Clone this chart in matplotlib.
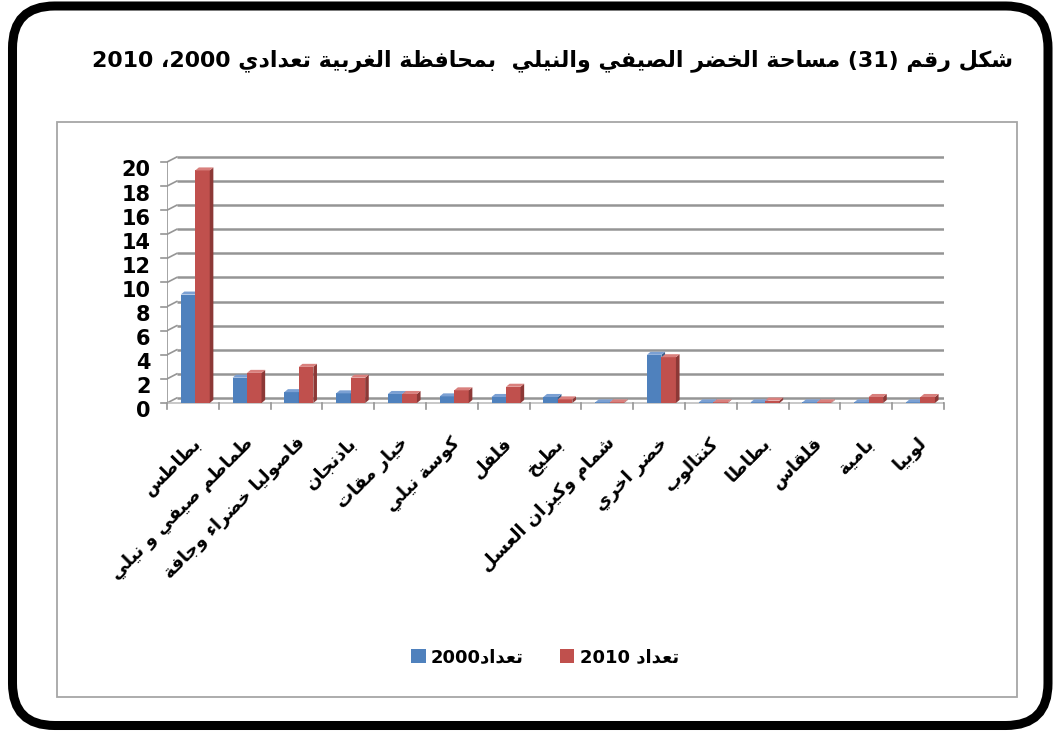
import re
import unicodedata
import matplotlib
matplotlib.use("Agg")
import matplotlib.pyplot as plt
from matplotlib.patches import Polygon, FancyBboxPatch, Rectangle

# ---------------- data ----------------
categories = ["بطاطس", "طماطم صيفي و نيلي", "فاصوليا خضراء وجافة", "باذنجان",
              "خيار مقات", "كوسة نيلي", "فلفل", "بطيخ", "شمام وكيزان العسل",
              "خضر اخري", "كنتالوب", "بطاطا", "قلقاس", "بامية", "لوبيا"]
values_2000 = [9.0, 2.1, 0.9, 0.8, 0.75, 0.55, 0.5, 0.5, 0.05, 4.0, 0.05, 0.05, 0.05, 0.05, 0.05]
values_2010 = [19.3, 2.5, 3.0, 2.1, 0.75, 1.05, 1.35, 0.3, 0.05, 3.8, 0.05, 0.2, 0.05, 0.5, 0.5]
series_labels = ["تعداد2000", "تعداد 2010"]
yticks = [0, 2, 4, 6, 8, 10, 12, 14, 16, 18, 20]
title = "شكل رقم (31) مساحة الخضر الصيفي والنيلي  بمحافظة الغربية تعدادي 2000، 2010"


# ---------------- Arabic shaping (presentation forms + visual order) ----------------
def _forms(ch):
    try:
        name = unicodedata.name(ch)
    except ValueError:
        return None
    if not name.startswith("ARABIC LETTER"):
        return None
    f = {}
    for k, suf in (("isol", " ISOLATED FORM"), ("fina", " FINAL FORM"),
                   ("init", " INITIAL FORM"), ("medi", " MEDIAL FORM")):
        try:
            f[k] = unicodedata.lookup(name + suf)
        except KeyError:
            pass
    return f if f else None


def _shape(s):
    F = [_forms(c) for c in s]
    dual = lambda f: f is not None and "init" in f
    joins = lambda f: f is not None and "fina" in f
    out = []
    n = len(s)
    for i, c in enumerate(s):
        f = F[i]
        if f is None:
            out.append(c)
            continue
        prev = F[i - 1] if i > 0 else None
        nxt = F[i + 1] if i < n - 1 else None
        jp = dual(prev) and joins(f)
        jn = dual(f) and joins(nxt)
        if jp and jn:
            out.append(f["medi"])
        elif jp:
            out.append(f["fina"])
        elif jn:
            out.append(f["init"])
        else:
            out.append(f.get("isol", c))
    return "".join(out)


def ar(s):
    s = _shape(s)
    toks = re.findall(r"[0-9A-Za-z.]+|.", s)[::-1]
    mirror = {"(": ")", ")": "("}
    return "".join(mirror.get(t, t) for t in toks)


# ---------------- figure ----------------
W, H = 1053, 732
fig = plt.figure(figsize=(W / 100, H / 100), dpi=100)
fig.patch.set_facecolor("white")

FONT = "DejaVu Sans"

# outer rounded frame
frame = FancyBboxPatch((12.5 / W, 6.5 / H), (1048 - 12.5) / W, (726 - 6.5) / H,
                       boxstyle="round,pad=0,rounding_size=0.04",
                       transform=fig.transFigure, fill=False,
                       edgecolor="black", linewidth=6.5, mutation_aspect=W / H)
fig.patches.append(frame)

# inner chart-area box
inner = Rectangle((57 / W, 1 - 697 / H), (1017 - 57) / W, (697 - 122) / H,
                  transform=fig.transFigure, fill=False,
                  edgecolor="#A6A6A6", linewidth=1.3)
fig.patches.append(inner)

fig.text(0.525, 1 - 61 / H, ar(title), ha="center", va="center",
         fontsize=15.9, fontweight="bold", family=FONT)

# plot axes: x 0..15 spans px 167..944 ; front y 0 at px 403, 12.05 px per unit
px_per_unit = 12.05
y0_px = 403
y_top_px, y_bot_px = 150, 410
ax = fig.add_axes([167 / W, 1 - y_bot_px / H, (944 - 167) / W, (y_bot_px - y_top_px) / H])
ax.set_xlim(0, len(categories))
ax.set_ylim(-(y_bot_px - y0_px) / px_per_unit, (y0_px - y_top_px) / px_per_unit)
ax.axis("off")
ax.set_facecolor("none")

DX, DY = 0.19, 0.42       # back-wall depth offset
n = len(categories)
grid_col = "#959595"

# back-wall gridlines
for v in yticks:
    ax.plot([DX, n + DX], [v + DY, v + DY], color=grid_col, lw=1.8,
            solid_capstyle="butt", zorder=1)
    ax.plot([0, DX], [v, v + DY], color=grid_col, lw=1.2, zorder=1)
    ax.plot([-0.12, 0], [v, v], color=grid_col, lw=1.2, zorder=1, clip_on=False)
    ax.text(-0.32, v - 0.7, str(v), ha="right", va="center", fontsize=15,
            fontweight="bold", family=FONT, color="black", clip_on=False)
# left front vertical edge
ax.plot([0, 0], [0, yticks[-1]], color=grid_col, lw=1.2, zorder=1)
# floor front line & right slant
ax.plot([0, n], [0, 0], color="#BFBFBF", lw=1.2, zorder=1)
ax.plot([n, n + DX], [0, DY], color=grid_col, lw=1.2, zorder=1)
# category boundary ticks
for i in range(n + 1):
    ax.plot([i, i], [0, -0.5], color=grid_col, lw=1.2, zorder=1, clip_on=False)

# bars with pseudo-3D faces
bw = 0.28
bdx, bdy = 0.07, 0.25
styles = [("#4F81BD", "#385D8A", "#7BA0D3"), ("#C0504D", "#8C3836", "#D9807D")]
offsets = [0.265, 0.265 + bw]
for i in range(n):
    for s, vals in enumerate((values_2000, values_2010)):
        v = vals[i]
        x0 = i + offsets[s]
        x1 = x0 + bw
        front_c, side_c, top_c = styles[s]
        z = 3 + s
        ax.bar(x0, v, width=bw, align="edge", color=front_c, edgecolor="none", zorder=z)
        ax.add_patch(Polygon([(x1, 0), (x1 + bdx, bdy), (x1 + bdx, v + bdy), (x1, v)],
                             closed=True, facecolor=side_c, edgecolor="none", zorder=z))
        ax.add_patch(Polygon([(x0, v), (x1, v), (x1 + bdx, v + bdy), (x0 + bdx, v + bdy)],
                             closed=True, facecolor=top_c, edgecolor="none", zorder=z))

# category labels (rotated)
for i, c in enumerate(categories):
    ax.text(i + 0.6, -3.1, ar(c), rotation=45, rotation_mode="anchor",
            ha="right", va="center", fontsize=13, fontweight="bold",
            family=FONT, color="black", clip_on=False)

# legend
handles = [Rectangle((0, 0), 1, 1, facecolor=styles[0][0]),
           Rectangle((0, 0), 1, 1, facecolor=styles[1][0])]
leg = fig.legend(handles, [ar(series_labels[0]), ar(series_labels[1])],
                 loc="center", bbox_to_anchor=(545 / W, 1 - 657 / H), ncol=2,
                 frameon=False, handlelength=0.8, handleheight=0.8,
                 handletextpad=0.3, columnspacing=2.0,
                 prop={"family": FONT, "weight": "bold", "size": 13})

fig.savefig("out.png", dpi=100, facecolor="white")
